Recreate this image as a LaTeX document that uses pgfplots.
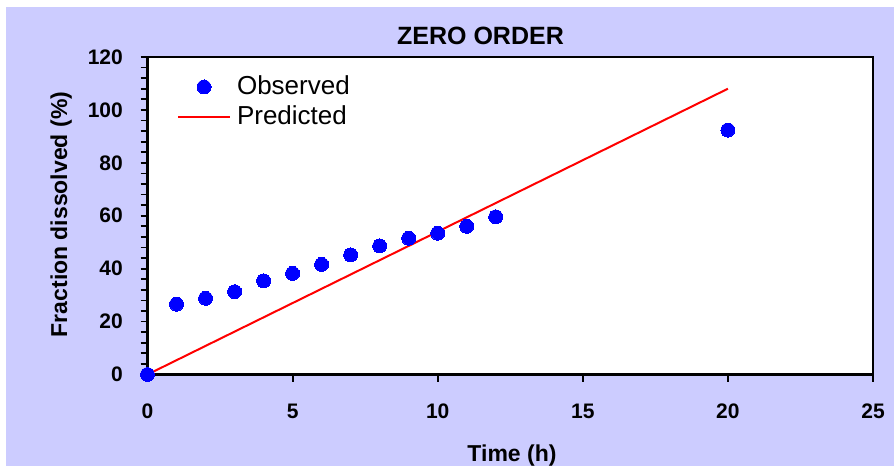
\documentclass[border=0pt]{standalone}
\usepackage{fontspec}
\setmainfont{Liberation Sans}
\usepackage{pgfplots}
\pgfplotsset{compat=1.18}
\definecolor{chartbg}{RGB}{204,204,255}
\definecolor{obsblue}{RGB}{0,0,255}
\definecolor{predred}{RGB}{255,0,0}

\begin{document}
\begin{tikzpicture}[x=1pt,y=1pt]
\path[use as bounding box, fill=white] (0,0) rectangle (894,466);
\fill[chartbg] (6,0) rectangle (894,459);
\begin{axis}[
  at={(147.5pt,91.5pt)}, anchor=south west,
  scale only axis, width=725.5pt, height=317.5pt,
  xmin=0, xmax=25, ymin=0, ymax=120,
  xtick={0,5,...,25}, ytick={0,20,...,120},
  minor y tick num=4,
  tick align=outside, tick pos=left,
  major tick length=7pt, minor tick length=7pt,
  every tick/.append style={black, line width=1.8pt},
  separate axis lines,
  axis line style={line width=2.6pt, line cap=rect},
  axis background/.style={fill=white},
  ticklabel style={font=\fontsize{21}{25}\selectfont\bfseries, inner sep=0pt},
  /pgf/number format/assume math mode=true,
  xticklabel style={anchor=base, yshift=-36.5pt},
  yticklabel style={anchor=east, xshift=-17.5pt},
  clip=false,
  reverse legend,
  legend style={draw=none, fill=none, at={(0.0407,0.9528)}, anchor=north west,
    inner sep=0pt, outer sep=0pt, row sep=0pt, column sep=6pt,
    font=\fontsize{26}{30}\selectfont, cells={anchor=west},
    nodes={inner sep=0pt, text height=23pt, text depth=7pt}},
  legend image code/.code={\draw[#1,mark repeat=2,mark phase=2]
    plot coordinates {(0pt,0pt)(26pt,0pt)(52pt,0pt)};},
]
% zero-order model: 5.4 % per hour
\addplot[predred, line width=2pt] coordinates {
  (0,0) (1,5.4) (2,10.8) (3,16.2) (4,21.6) (5,27.0) (6,32.4) (7,37.8)
  (8,43.2) (9,48.6) (10,54.0) (11,59.4) (12,64.8) (20,108.0)
};
\addlegendentry{Predicted}
% measured release
\addplot[only marks, mark=*, mark size=7pt,
  mark options={fill=obsblue, draw=obsblue, line width=0pt}] coordinates {
  (0,0) (1,26.6) (2,28.8) (3,31.3) (4,35.4) (5,38.2) (6,41.6) (7,45.2)
  (8,48.6) (9,51.5) (10,53.4) (11,56.0) (12,59.6) (20,92.4)
};
\addlegendentry{Observed}
\end{axis}
\node[anchor=base, font=\fontsize{25}{30}\selectfont\bfseries] at (480.5,421.7) {ZERO ORDER};
\node[rotate=90, anchor=base, font=\fontsize{23}{28}\selectfont\bfseries] at (67,251.5) {Fraction dissolved (\%)};
\node[anchor=base, font=\fontsize{23}{28}\selectfont\bfseries] at (512,4.5) {Time (h)};
\end{tikzpicture}
\end{document}
